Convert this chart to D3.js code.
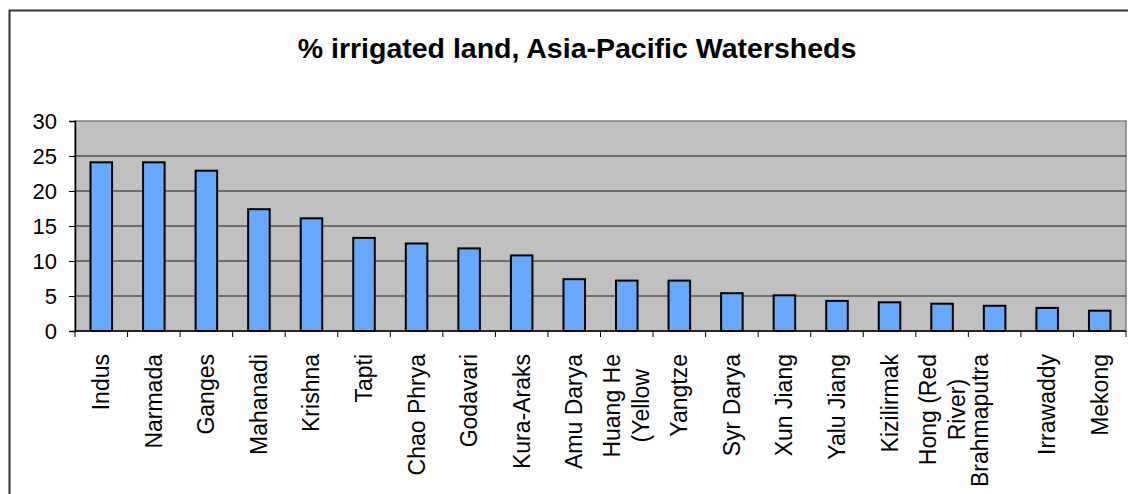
<!DOCTYPE html>
<html>
<head>
<meta charset="utf-8">
<script src="https://cdn.jsdelivr.net/npm/d3@7"></script>
<style>
  body { margin: 0; background: #fff; }
  text { font-family: "Liberation Sans", Arial, sans-serif; }
</style>
</head>
<body>
<svg id="drawing_region"></svg>
<script>
const width = 1128;
const height = 494;

// watershed names ("\n" = line break as in the original axis labels)
const rivers = [
    "Indus", "Narmada", "Ganges", "Mahanadi", "Krishna", "Tapti",
    "Chao Phrya", "Godavari", "Kura-Araks", "Amu Darya", "Huang He\n(Yellow",
    "Yangtze", "Syr Darya", "Xun Jiang", "Yalu Jiang", "Kizilirmak",
    "Hong (Red\nRiver)", "Brahmaputra\n", "Irrawaddy", "Mekong"
];
const irrigated = [
    24.1, 24.1, 22.9, 17.4, 16.1, 13.3,
    12.5, 11.8, 10.8, 7.4, 7.2,
    7.2, 5.4, 5.1, 4.3, 4.1,
    3.9, 3.6, 3.3, 2.9
];
const y_ticks = [0, 5, 10, 15, 20, 25, 30];
const title = "% irrigated land, Asia-Pacific Watersheds";

const plot = { left: 75, right: 1126, top: 121, bottom: 331 };

const svg = d3.select('#drawing_region')
    .attr('width', width)
    .attr('height', height);

svg.append("rect")
    .attr("width", width).attr("height", height)
    .attr("fill", "#fff");

// outer chart frame (runs off the right and bottom edge)
svg.append("rect")
    .attr("x", 9.5).attr("y", 10.5)
    .attr("width", 1136).attr("height", 500)
    .attr("fill", "none")
    .attr("stroke", "#333")
    .attr("stroke-width", 2);

svg.append("text")
    .attr("x", 577)
    .attr("y", 58)
    .attr("text-anchor", "middle")
    .attr("font-size", "28.5px")
    .attr("font-weight", "bold")
    .text(title);

const xscale = d3.scaleBand()
    .domain(rivers)
    .range([plot.left, plot.right])
    .paddingInner(0.59)
    .paddingOuter(0.295);

const yscale = d3.scaleLinear()
    .domain([0, 30])
    .range([plot.bottom, plot.top]);

// plot area
svg.append("rect")
    .attr("x", plot.left).attr("y", plot.top)
    .attr("width", plot.right - plot.left)
    .attr("height", plot.bottom - plot.top)
    .attr("fill", "#c0c0c0")
    .attr("stroke", "#808080")
    .attr("stroke-width", 1.5);

// gridlines
svg.selectAll("line.grid")
    .data(y_ticks.filter(d => d > 0 && d < 30))
    .join("line")
    .attr("class", "grid")
    .attr("x1", plot.left).attr("x2", plot.right)
    .attr("y1", d => yscale(d)).attr("y2", d => yscale(d))
    .attr("stroke", "#1a1a1a")
    .attr("stroke-width", 1);

// y axis
const yaxis = svg.append("g")
    .attr("transform", `translate(${plot.left},0)`)
    .call(d3.axisLeft(yscale).tickValues(y_ticks).tickSize(6).tickPadding(12));
yaxis.select(".domain").attr("stroke", "#000").attr("stroke-width", 1.5);
yaxis.selectAll(".tick line").attr("stroke", "#000");
yaxis.selectAll(".tick text")
    .attr("font-size", "22px")
    .attr("font-family", "Liberation Sans, Arial, sans-serif")
    .attr("fill", "#000");

// bars
svg.selectAll("rect.bar")
    .data(irrigated)
    .join("rect")
    .attr("class", "bar")
    .attr("x", (d, i) => xscale(rivers[i]))
    .attr("y", d => yscale(d))
    .attr("width", xscale.bandwidth())
    .attr("height", d => yscale(0) - yscale(d))
    .attr("fill", "#66a9ff")
    .attr("stroke", "#000")
    .attr("stroke-width", 2);

// x axis line and ticks at band boundaries
const step = xscale.step();
svg.append("line")
    .attr("x1", plot.left).attr("x2", plot.right)
    .attr("y1", plot.bottom).attr("y2", plot.bottom)
    .attr("stroke", "#000").attr("stroke-width", 1.5);
svg.selectAll("line.xtick")
    .data(d3.range(rivers.length + 1))
    .join("line")
    .attr("class", "xtick")
    .attr("x1", i => plot.left + i * step).attr("x2", i => plot.left + i * step)
    .attr("y1", plot.bottom).attr("y2", plot.bottom + 6)
    .attr("stroke", "#000");

// rotated category labels
const line_h = 29;
const labels = svg.selectAll("g.xlabel")
    .data(rivers)
    .join("g")
    .attr("class", "xlabel")
    .attr("transform", d => `translate(${xscale(d) + xscale.bandwidth() / 2},354) rotate(-90)`);

labels.each(function (d) {
    const lines = d.split("\n");
    const t = d3.select(this).append("text")
        .attr("font-size", "23px")
        .attr("text-anchor", "middle");
    const spans = lines.map((s, i) => t.append("tspan")
        .attr("y", (i - (lines.length - 1) / 2) * line_h + 8)
        .text(s));
    const maxw = d3.max(spans, s => s.node().getComputedTextLength());
    spans.forEach(s => s.attr("x", -maxw / 2));
});
</script>
</body>
</html>
